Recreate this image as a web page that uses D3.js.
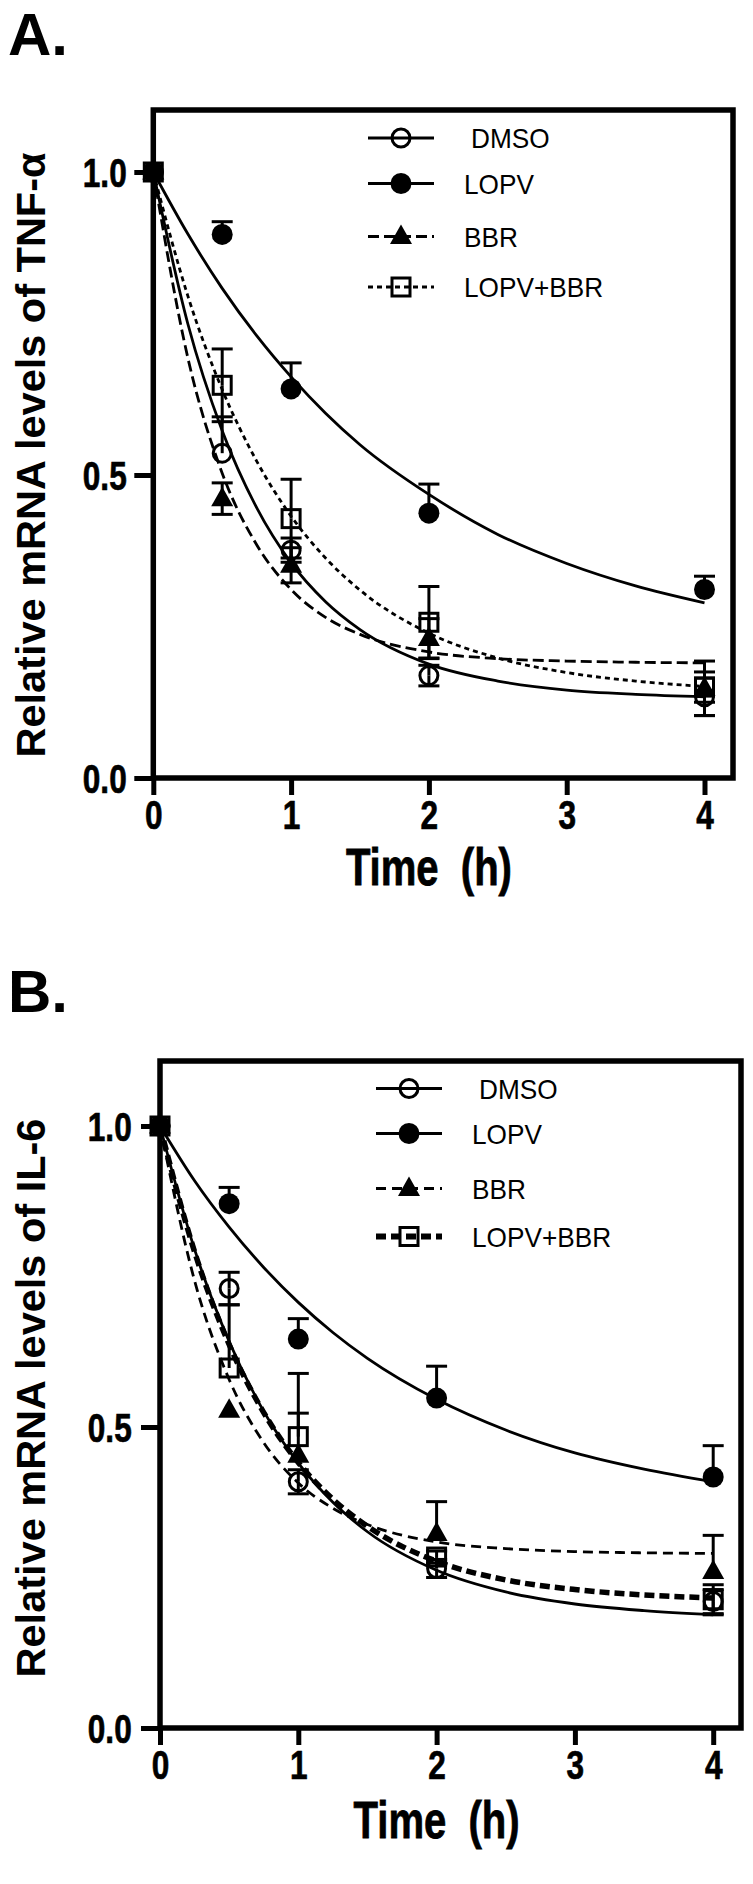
<!DOCTYPE html>
<html><head><meta charset="utf-8">
<script src="https://cdn.jsdelivr.net/npm/d3@7"></script>
<style>html,body{margin:0;padding:0;background:#fff;} svg{display:block;}</style>
</head><body>
<svg id="chart" width="753" height="1884"></svg>
<script>
// ---------- data ----------
const timePoints = [0, 0.5, 1, 2, 4];
const fitTimes = [0, 0.25, 0.5, 0.75, 1, 1.25, 1.5, 2, 2.5, 3, 3.5, 4];
const seriesNames = ["DMSO", "LOPV", "BBR", "LOPV+BBR"];
const xTickValues = [0, 1, 2, 3, 4];
const yTickValues = [0, 0.5, 1.0];

// Panel A: TNF-alpha
const tnfDMSO = [1.000, 0.536, 0.376, 0.169, 0.134];
const tnfDMSOUp = [0, 0.060, 0.020, 0.017, 0.031];
const tnfDMSODown = [0, 0.000, 0.020, 0.017, 0.031];
const tnfDMSOFit = [1, 0.750, 0.573, 0.446, 0.355, 0.291, 0.245, 0.188, 0.160, 0.145, 0.138, 0.134];
const tnfLOPV = [1.000, 0.897, 0.642, 0.437, 0.311];
const tnfLOPVUp = [0, 0.021, 0.043, 0.048, 0.022];
const tnfLOPVDown = [0, 0, 0, 0, 0];
const tnfLOPVFit = [1, 0.898, 0.808, 0.730, 0.662, 0.602, 0.550, 0.468, 0.402, 0.354, 0.317, 0.289];
const tnfBBR = [1.000, 0.461, 0.351, 0.230, 0.148];
const tnfBBRUp = [0, 0.026, 0.029, 0.033, 0.045];
const tnfBBRDown = [0, 0.026, 0.029, 0.033, 0.045];
const tnfBBRFit = [1, 0.694, 0.503, 0.385, 0.311, 0.265, 0.237, 0.208, 0.197, 0.193, 0.191, 0.190];
const tnfCombo = [1.000, 0.648, 0.428, 0.257, 0.150];
const tnfComboUp = [0, 0.060, 0.065, 0.059, 0.025];
const tnfComboDown = [0, 0.060, 0.065, 0.059, 0.025];
const tnfComboFit = [1, 0.796, 0.641, 0.523, 0.432, 0.363, 0.310, 0.239, 0.198, 0.174, 0.160, 0.151];

// Panel B: IL-6
const il6DMSO = [1.000, 0.730, 0.409, 0.265, 0.210];
const il6DMSOUp = [0, 0.027, 0.020, 0.015, 0.020];
const il6DMSODown = [0, 0.027, 0.020, 0.015, 0.020];
const il6DMSOFit = [1, 0.795, 0.642, 0.526, 0.440, 0.375, 0.326, 0.262, 0.226, 0.206, 0.195, 0.188];
const il6LOPV = [1.000, 0.871, 0.646, 0.548, 0.417];
const il6LOPVUp = [0, 0.027, 0.034, 0.053, 0.052];
const il6LOPVDown = [0, 0, 0, 0, 0];
const il6LOPVFit = [1, 0.909, 0.832, 0.765, 0.707, 0.657, 0.614, 0.546, 0.495, 0.457, 0.430, 0.409];
const il6BBR = [1.000, 0.528, 0.453, 0.323, 0.260];
const il6BBRUp = [0, 0.000, 0.070, 0.053, 0.060];
const il6BBRDown = [0, 0, 0, 0, 0];
const il6BBRFit = [1, 0.743, 0.579, 0.474, 0.407, 0.365, 0.338, 0.309, 0.298, 0.293, 0.291, 0.290];
const il6Combo = [1.000, 0.598, 0.484, 0.284, 0.213];
const il6ComboUp = [0, 0.105, 0.105, 0.010, 0.025];
const il6ComboDown = [0, 0, 0, 0.010, 0.025];
const il6ComboFit = [1, 0.791, 0.637, 0.524, 0.441, 0.380, 0.335, 0.277, 0.246, 0.230, 0.221, 0.216];

// ---------- drawing ----------
const svg = d3.select("#chart");
const NARROW = 0.77;
const FONT = "Liberation Sans, Arial, sans-serif";

function marker(g, type, cx, cy) {
  if (type === "openCircle") {
    g.append("circle").attr("cx", cx).attr("cy", cy).attr("r", 9)
      .attr("fill", "none").attr("stroke", "#000").attr("stroke-width", 3);
  } else if (type === "filledCircle") {
    g.append("circle").attr("cx", cx).attr("cy", cy).attr("r", 10.5).attr("fill", "#000");
  } else if (type === "triangle") {
    g.append("path").attr("d", `M${cx},${cy-12}L${cx+11},${cy+7.5}L${cx-11},${cy+7.5}Z`).attr("fill", "#000");
  } else if (type === "openSquare") {
    g.append("rect").attr("x", cx-9).attr("y", cy-9).attr("width", 18).attr("height", 18)
      .attr("fill", "none").attr("stroke", "#000").attr("stroke-width", 3);
  }
}

function drawPanel(p) {
  const g = svg.append("g");
  const x = d3.scaleLinear().domain([0, 4]).range([p.left, p.x4]);
  const y = d3.scaleLinear().domain([0, 1]).range([p.y0, p.y1]);

  // panel letter
  g.append("text").attr("x", 8).attr("y", p.letterY).text(p.letter)
    .attr("font-family", FONT).attr("font-weight", "bold")
    .attr("font-size", 60).attr("fill", "#000");

  // series
  p.series.forEach(s => {
    const sg = g.append("g");
    const line = d3.line().x((d, i) => x(fitTimes[i])).y(d => y(d)).curve(d3.curveMonotoneX);
    sg.append("path").attr("d", line(s.fit)).attr("fill", "none").attr("stroke", "#000")
      .attr("stroke-width", s.width).attr("stroke-dasharray", s.dash);
    timePoints.forEach((t, i) => {
      const cx = x(t), cy = y(s.mean[i]);
      if (s.up[i] > 0) {
        const yt = y(s.mean[i] + s.up[i]);
        sg.append("line").attr("x1", cx).attr("x2", cx).attr("y1", cy).attr("y2", yt).attr("stroke", "#000").attr("stroke-width", 3);
        sg.append("line").attr("x1", cx-10.5).attr("x2", cx+10.5).attr("y1", yt).attr("y2", yt).attr("stroke", "#000").attr("stroke-width", 3);
      }
      if (s.down[i] > 0) {
        const yb = y(s.mean[i] - s.down[i]);
        sg.append("line").attr("x1", cx).attr("x2", cx).attr("y1", cy).attr("y2", yb).attr("stroke", "#000").attr("stroke-width", 3);
        sg.append("line").attr("x1", cx-10.5).attr("x2", cx+10.5).attr("y1", yb).attr("y2", yb).attr("stroke", "#000").attr("stroke-width", 3);
      }
    });
    timePoints.forEach((t, i) => marker(sg, s.marker, x(t), y(s.mean[i])));
  });

  // frame
  g.append("rect").attr("x", p.left).attr("y", p.top).attr("width", p.right - p.left).attr("height", p.y0 - p.top)
    .attr("fill", "none").attr("stroke", "#000").attr("stroke-width", 5.5);

  // y axis
  const ya = g.append("g").attr("transform", `translate(${p.left},0)`)
    .call(d3.axisLeft(y).tickValues(yTickValues).tickSize(19).tickFormat(d3.format(".1f")));
  ya.select(".domain").remove();
  ya.selectAll(".tick line").attr("stroke-width", 5);
  ya.selectAll(".tick text").attr("x", -p.yLabelGap / NARROW).attr("dy", "0.36em").attr("transform", `scale(${NARROW},1)`)
    .attr("font-family", FONT).attr("font-weight", "bold").attr("font-size", 41).attr("fill", "#000")
    .attr("stroke", "#000").attr("stroke-width", 0.7);

  // x axis
  const xa = g.append("g").attr("transform", `translate(0,${p.y0})`)
    .call(d3.axisBottom(x).tickValues(xTickValues).tickSize(17).tickPadding(5).tickFormat(d3.format("d")));
  xa.select(".domain").remove();
  xa.selectAll(".tick line").attr("stroke-width", 5);
  xa.selectAll(".tick text").attr("transform", `scale(${NARROW},1)`)
    .attr("font-family", FONT).attr("font-weight", "bold").attr("font-size", 41).attr("fill", "#000")
    .attr("stroke", "#000").attr("stroke-width", 0.7);

  // x title
  g.append("text").attr("transform", `translate(${x(2)},${p.xTitleY}) scale(${NARROW},1)`)
    .attr("text-anchor", "middle").text("Time  (h)").attr("xml:space", "preserve")
    .attr("font-family", FONT).attr("font-weight", "bold").attr("font-size", 52)
    .attr("stroke", "#000").attr("stroke-width", 0.8);

  // y title
  g.append("text").attr("transform", `translate(${p.yTitleX},${p.yTitleMid}) rotate(-90)`)
    .attr("text-anchor", "middle").text(p.yTitle)
    .attr("font-family", FONT).attr("font-weight", "bold").attr("font-size", 41.5);

  // legend
  p.series.forEach((s, i) => {
    const ly = p.legendRows[i];
    g.append("line").attr("x1", p.legX1).attr("x2", p.legX2).attr("y1", ly).attr("y2", ly)
      .attr("stroke", "#000").attr("stroke-width", s.width + 0.3).attr("stroke-dasharray", s.dash);
    marker(g, s.marker, (p.legX1 + p.legX2) / 2, ly);
    g.append("text").attr("transform", `translate(${p.legTextX + (i === 0 ? 7 : 0)},${ly + 10}) scale(0.92,1)`)
      .text(seriesNames[i])
      .attr("font-family", FONT).attr("font-size", 28.5);
  });
}

drawPanel({
  letter: "A.", letterY: 55,
  left: 153.3, x4: 704.5, right: 733, top: 110, y0: 778, y1: 172,
  yLabelGap: 26.6, xTitleY: 885, yTitleX: 45, yTitleMid: 455,
  yTitle: "Relative mRNA levels of TNF-α",
  legendRows: [138, 183.5, 236.5, 287], legX1: 368, legX2: 434, legTextX: 464,
  series: [
    { mean: tnfDMSO, up: tnfDMSOUp, down: tnfDMSODown, fit: tnfDMSOFit, marker: "openCircle", dash: null, width: 2.8 },
    { mean: tnfLOPV, up: tnfLOPVUp, down: tnfLOPVDown, fit: tnfLOPVFit, marker: "filledCircle", dash: null, width: 2.8 },
    { mean: tnfBBR, up: tnfBBRUp, down: tnfBBRDown, fit: tnfBBRFit, marker: "triangle", dash: "11,5", width: 2.8 },
    { mean: tnfCombo, up: tnfComboUp, down: tnfComboDown, fit: tnfComboFit, marker: "openSquare", dash: "5,4", width: 2.8 }
  ]
});

drawPanel({
  letter: "B.", letterY: 1012,
  left: 160, x4: 713.2, right: 741, top: 1061, y0: 1728, y1: 1126,
  yLabelGap: 28.3, xTitleY: 1838, yTitleX: 45, yTitleMid: 1398,
  yTitle: "Relative mRNA levels of IL-6",
  legendRows: [1088.5, 1133.5, 1188.5, 1236.5], legX1: 376, legX2: 442, legTextX: 472,
  series: [
    { mean: il6DMSO, up: il6DMSOUp, down: il6DMSODown, fit: il6DMSOFit, marker: "openCircle", dash: null, width: 2.8 },
    { mean: il6LOPV, up: il6LOPVUp, down: il6LOPVDown, fit: il6LOPVFit, marker: "filledCircle", dash: null, width: 2.8 },
    { mean: il6BBR, up: il6BBRUp, down: il6BBRDown, fit: il6BBRFit, marker: "triangle", dash: "10,6", width: 2.8 },
    { mean: il6Combo, up: il6ComboUp, down: il6ComboDown, fit: il6ComboFit, marker: "openSquare", dash: "10,5", width: 5.5 }
  ]
});
</script>
</body></html>
